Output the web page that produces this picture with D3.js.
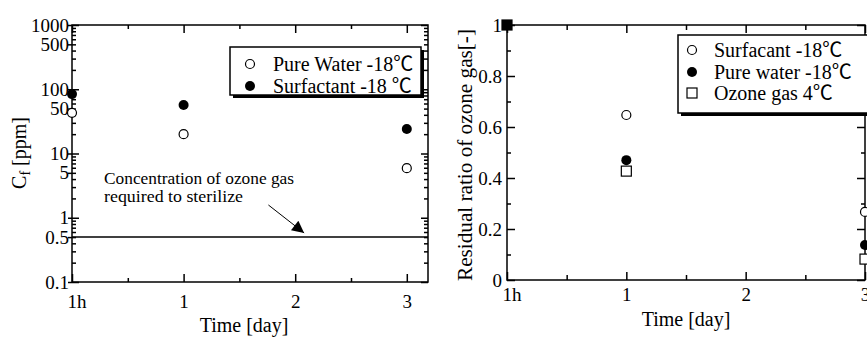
<!DOCTYPE html>
<meta charset="utf-8">
<style>
    body { margin: 0; background: #fff; }
    svg text { font-family: "Liberation Serif", "Times New Roman", "Noto Sans CJK JP", serif; fill: #000; }
    .axis path, .axis line { fill: none; stroke: #000; stroke-width: 1.5px; }
    .axis text { font-size: 19px; }
</style>
<svg width="867" height="338"></svg>
<script src="https://cdn.jsdelivr.net/npm/d3@7/dist/d3.min.js"></script>
<script>
// time in days (0 = 1h)
var leftDays = [0, 1, 3];
var pureWaterPpm = [43, 20, 5.9];
var surfactantPpm = [84, 57, 24];
var sterilizeLevel = 0.5;
var logTickLabels = [0.1, 0.5, 1, 5, 10, 50, 100, 500, 1000];

var rightDays = [0, 1, 3];
var surfactantRatio = [1, 0.647, 0.267];
var pureWaterRatio = [1, 0.47, 0.137];
var ozoneGasRatio = [1, 0.427, 0.082];
var ratioTicks = [0, 0.2, 0.4, 0.6, 0.8, 1];

var dayTicks = [0, 1, 2, 3];
var dayTickLabels = ["1h", "1", "2", "3"];
var dayMinor = [0.5, 1.5, 2.5];

(function () {
    var svg = d3.select("svg");

    // ---------- left chart ----------
    var x1 = d3.scaleLinear().domain([0, 3.19]).range([72, 428]),
        y1 = d3.scaleLog().domain([0.1, 1000]).range([282, 25]);

    var logMinor = [];
    [0.1, 1, 10, 100].forEach(function (b) {
        for (var i = 2; i <= 9; i++) logMinor.push(b * i);
    });

    var g1 = svg.append("g");
    g1.append("rect").attr("x", 72).attr("y", 25).attr("width", 356).attr("height", 257)
        .attr("fill", "none").attr("stroke", "#000").attr("stroke-width", 1.5);

    function axisG(g, axis, tx, ty) {
        return g.append("g").attr("class", "axis")
            .attr("transform", "translate(" + [tx, ty] + ")").call(axis)
            .call(function (s) { s.select(".domain").remove(); });
    }

    // x axes
    axisG(g1, d3.axisBottom(x1).tickValues(dayTicks).tickSize(-8).tickPadding(13)
        .tickFormat(function (d, i) { return dayTickLabels[i]; }), 0, 282)
        .selectAll("text").filter(function (d) { return d === 0; })
        .attr("text-anchor", "start").attr("dx", -5);
    axisG(g1, d3.axisBottom(x1).tickValues(dayMinor).tickSize(-4).tickFormat(""), 0, 282);
    axisG(g1, d3.axisTop(x1).tickValues(dayTicks).tickSize(-8).tickFormat(""), 0, 25);
    axisG(g1, d3.axisTop(x1).tickValues(dayMinor).tickSize(-4).tickFormat(""), 0, 25);

    // y axes
    axisG(g1, d3.axisLeft(y1).tickValues(logTickLabels).tickSize(4).tickPadding(-1)
        .tickFormat(function (d) { return String(d); }), 72, 0);
    axisG(g1, d3.axisLeft(y1).tickValues([0.1, 1, 10, 100, 1000]).tickSize(-7).tickFormat(""), 72, 0);
    axisG(g1, d3.axisLeft(y1).tickValues(logMinor).tickSize(-4).tickFormat(""), 72, 0);
    axisG(g1, d3.axisRight(y1).tickValues([0.1, 1, 10, 100, 1000]).tickSize(-7).tickFormat(""), 428, 0);
    axisG(g1, d3.axisRight(y1).tickValues(logMinor).tickSize(-4).tickFormat(""), 428, 0);

    // sterilize line
    g1.append("line")
        .attr("x1", x1.range()[0]).attr("x2", x1.range()[1])
        .attr("y1", y1(sterilizeLevel)).attr("y2", y1(sterilizeLevel))
        .attr("stroke", "#000").attr("stroke-width", 1.5);

    // annotation
    svg.append("defs").append("marker")
        .attr("id", "arrow").attr("viewBox", "0 0 10 10").attr("refX", 10).attr("refY", 5)
        .attr("markerWidth", 14).attr("markerHeight", 12).attr("markerUnits", "userSpaceOnUse")
        .attr("orient", "auto")
        .append("path").attr("d", "M0,0L10,5L0,10z").attr("fill", "#000");
    g1.append("line")
        .attr("x1", x1(1.76)).attr("y1", y1(1.58))
        .attr("x2", x1(2.08)).attr("y2", y1(0.58))
        .attr("stroke", "#000").attr("stroke-width", 1)
        .attr("marker-end", "url(#arrow)");
    g1.append("text").attr("x", 104).attr("y", 184).attr("font-size", 16)
        .attr("textLength", 190).attr("lengthAdjust", "spacingAndGlyphs")
        .text("Concentration of ozone gas");
    g1.append("text").attr("x", 104).attr("y", 202).attr("font-size", 16)
        .attr("textLength", 139).attr("lengthAdjust", "spacingAndGlyphs")
        .text("required to sterilize");

    // points
    g1.selectAll(".pw").data(leftDays).enter().append("circle")
        .attr("cx", function (d) { return x1(d); })
        .attr("cy", function (d, i) { return y1(pureWaterPpm[i]); })
        .attr("r", 4.5).attr("fill", "#fff").attr("stroke", "#000").attr("stroke-width", 1.2);
    g1.selectAll(".sf").data(leftDays).enter().append("circle")
        .attr("cx", function (d) { return x1(d); })
        .attr("cy", function (d, i) { return y1(surfactantPpm[i]); })
        .attr("r", 5).attr("fill", "#000");

    // legend
    var lg1 = g1.append("g");
    lg1.append("rect").attr("x", 233).attr("y", 50).attr("width", 191).attr("height", 48).attr("fill", "#000");
    lg1.append("rect").attr("x", 230).attr("y", 47).attr("width", 191).attr("height", 48)
        .attr("fill", "#fff").attr("stroke", "#000").attr("stroke-width", 1.5);
    lg1.append("circle").attr("cx", 250).attr("cy", 64).attr("r", 4.5)
        .attr("fill", "#fff").attr("stroke", "#000").attr("stroke-width", 1.2);
    lg1.append("circle").attr("cx", 250).attr("cy", 86).attr("r", 5).attr("fill", "#000");
    lg1.append("text").attr("x", 273).attr("y", 71).attr("font-size", 20).text("Pure Water -18\u2103");
    lg1.append("text").attr("x", 273).attr("y", 93).attr("font-size", 20).text("Surfactant -18 \u2103");

    // axis titles
    var yt1 = g1.append("text").attr("transform", "translate(26,153) rotate(-90)")
        .attr("text-anchor", "middle").attr("font-size", 20);
    yt1.append("tspan").text("C");
    yt1.append("tspan").attr("dy", 4).attr("font-size", 14).text("f");
    yt1.append("tspan").attr("dy", -4).text(" [ppm]");
    g1.append("text").attr("x", 244).attr("y", 332).attr("text-anchor", "middle")
        .attr("font-size", 20).text("Time [day]");

    // ---------- right chart ----------
    var x2 = d3.scaleLinear().domain([0, 3]).range([507, 865]),
        y2 = d3.scaleLinear().domain([0, 1]).range([280, 25]);
    var ratioMinor = d3.range(0.1, 1, 0.2);

    var g2 = svg.append("g");
    g2.append("rect").attr("x", 507).attr("y", 25).attr("width", 358).attr("height", 255)
        .attr("fill", "none").attr("stroke", "#000").attr("stroke-width", 1.5);

    axisG(g2, d3.axisBottom(x2).tickValues(dayTicks).tickSize(-8).tickPadding(8)
        .tickFormat(function (d, i) { return dayTickLabels[i]; }), 0, 280)
        .selectAll("text").filter(function (d) { return d === 0; })
        .attr("text-anchor", "start").attr("dx", -5);
    axisG(g2, d3.axisBottom(x2).tickValues(dayMinor).tickSize(-5).tickFormat(""), 0, 280);
    axisG(g2, d3.axisTop(x2).tickValues(dayTicks).tickSize(-8).tickFormat(""), 0, 25);
    axisG(g2, d3.axisTop(x2).tickValues(dayMinor).tickSize(-5).tickFormat(""), 0, 25);

    axisG(g2, d3.axisLeft(y2).tickValues(ratioTicks).tickSize(-8).tickPadding(5)
        .tickFormat(function (d) { return String(d); }), 507, 0);
    axisG(g2, d3.axisLeft(y2).tickValues(ratioMinor).tickSize(-4).tickFormat(""), 507, 0);
    axisG(g2, d3.axisRight(y2).tickValues(ratioTicks).tickSize(-8).tickFormat(""), 865, 0);
    axisG(g2, d3.axisRight(y2).tickValues(ratioMinor).tickSize(-4).tickFormat(""), 865, 0);

    // points
    g2.selectAll(".og").data(rightDays).enter().append("rect")
        .attr("x", function (d) { return x2(d) - 5; })
        .attr("y", function (d, i) { return y2(ozoneGasRatio[i]) - 5; })
        .attr("width", 10).attr("height", 10)
        .attr("fill", function (d) { return d === 0 ? "#000" : "#fff"; })
        .attr("stroke", "#000").attr("stroke-width", 1.2);
    g2.selectAll(".sf").data(rightDays).enter().append("circle")
        .attr("cx", function (d) { return x2(d); })
        .attr("cy", function (d, i) { return y2(surfactantRatio[i]); })
        .attr("r", 4.5).attr("fill", "#fff").attr("stroke", "#000").attr("stroke-width", 1.2)
        .attr("display", function (d) { return d === 0 ? "none" : null; });
    g2.selectAll(".pw").data(rightDays).enter().append("circle")
        .attr("cx", function (d) { return x2(d); })
        .attr("cy", function (d, i) { return y2(pureWaterRatio[i]); })
        .attr("r", 5).attr("fill", "#000");

    // legend
    var lg2 = g2.append("g");
    lg2.append("rect").attr("x", 681).attr("y", 38).attr("width", 190).attr("height", 78).attr("fill", "#000");
    lg2.append("rect").attr("x", 678).attr("y", 35).attr("width", 190).attr("height", 78)
        .attr("fill", "#fff").attr("stroke", "#000").attr("stroke-width", 1.5);
    lg2.append("circle").attr("cx", 692).attr("cy", 50).attr("r", 4.5)
        .attr("fill", "#fff").attr("stroke", "#000").attr("stroke-width", 1.2);
    lg2.append("circle").attr("cx", 692).attr("cy", 72).attr("r", 5).attr("fill", "#000");
    lg2.append("rect").attr("x", 687).attr("y", 88).attr("width", 10).attr("height", 10)
        .attr("fill", "#fff").attr("stroke", "#000").attr("stroke-width", 1.2);
    lg2.append("text").attr("x", 714).attr("y", 57).attr("font-size", 20).text("Surfacant -18\u2103");
    lg2.append("text").attr("x", 714).attr("y", 79).attr("font-size", 20).text("Pure water -18\u2103");
    lg2.append("text").attr("x", 714).attr("y", 100).attr("font-size", 20).text("Ozone gas 4\u2103");

    g2.append("text").attr("transform", "translate(472,155) rotate(-90)")
        .attr("text-anchor", "middle").attr("font-size", 20)
        .attr("textLength", 252).attr("lengthAdjust", "spacingAndGlyphs")
        .text("Residual ratio of ozone gas[-]");
    g2.append("text").attr("x", 686).attr("y", 326).attr("text-anchor", "middle")
        .attr("font-size", 20).text("Time [day]");
})();
</script>
